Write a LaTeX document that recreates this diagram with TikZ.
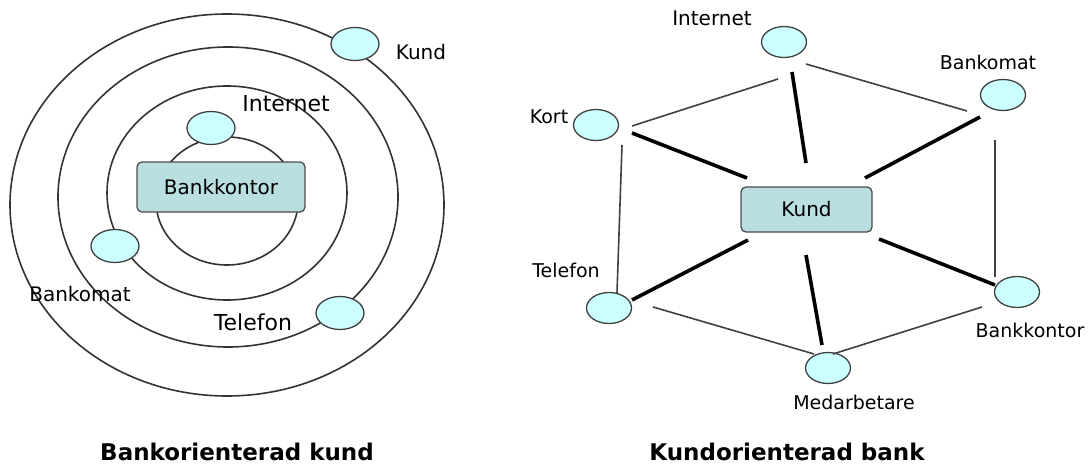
\documentclass[tikz,border=0pt]{standalone}
\usepackage{fontspec}
\setmainfont{DejaVu Sans}
\usetikzlibrary{shapes.geometric}
\definecolor{bubcol}{HTML}{CCFFFF}
\definecolor{boxcol}{HTML}{B9DFE0}
\begin{document}
\begin{tikzpicture}[x=1pt,y=-1pt,
  orbit/.style={draw=black!80, line width=1.6pt},
  bub/.style={ellipse, draw=black!75, line width=1.3pt, fill=bubcol, minimum width=48pt, minimum height=33pt, inner sep=0pt},
  rbub/.style={bub, minimum width=45pt, minimum height=31pt},
  centerbox/.style={rectangle, rounded corners=5pt, draw=black!70, line width=1.3pt, fill=boxcol, font=\fontsize{20}{24}\selectfont, inner sep=0pt},
  lbl/.style={font=\fontsize{20}{24}\selectfont, inner sep=0pt},
  rlbl/.style={font=\fontsize{19}{23}\selectfont, inner sep=0pt},
  conthin/.style={draw=black!75, line width=1.6pt},
  conthick/.style={draw=black, line width=3.6pt},
  titlestyle/.style={font=\bfseries\fontsize{23}{28}\selectfont, inner sep=0pt}]
\useasboundingbox[fill=white] (0,0) rectangle (1091,468);

% ---------- left diagram ----------
\draw[orbit] (227,205) ellipse [x radius=217pt, y radius=191pt];
\draw[orbit] (228,197) ellipse [x radius=170pt, y radius=150pt];
\draw[orbit] (227,193) ellipse [x radius=120pt, y radius=107pt];
\draw[orbit] (227,201) ellipse [x radius=71pt, y radius=64pt];

\node[centerbox, minimum width=168pt, minimum height=50pt] (bk) at (221,187) {Bankkontor};

\node[bub] (lkund) at (355,44) {};
\node[bub] (lint) at (211,128) {};
\node[bub] (lbankomat) at (115,246) {};
\node[bub] (ltel) at (340,313) {};

\node[lbl] (lkundlbl) at (421,52) {Kund};
\node[lbl, font=\fontsize{22}{26}\selectfont] (lintlbl) at (286,104) {Internet};
\node[lbl] (lbankomatlbl) at (80,294) {Bankomat};
\node[lbl, font=\fontsize{22}{26}\selectfont] (ltellbl) at (253,322) {Telefon};

\node[titlestyle] (ltitle) at (237,452) {Bankorienterad kund};

% ---------- right diagram ----------
\node[centerbox, minimum width=131pt, minimum height=45pt] (kund) at (806.5,209.5) {Kund};

\node[rbub] (rint) at (784,42) {};
\node[rbub] (rbankomat) at (1003,95) {};
\node[rbub] (rkort) at (596,125) {};
\node[rbub] (rtel) at (609,308) {};
\node[rbub] (rbk) at (1017,292) {};
\node[rbub] (rmed) at (828,368) {};

\node[rlbl, font=\fontsize{20}{24}\selectfont] (rintlbl) at (712,18) {Internet};
\node[rlbl] (rbankomatlbl) at (988,62) {Bankomat};
\node[rlbl] (rkortlbl) at (549,117) {Kort};
\node[rlbl] (rtellbl) at (566,270) {Telefon};
\node[rlbl] (rbklbl) at (1030,330) {Bankkontor};
\node[rlbl] (rmedlbl) at (854,402) {Medarbetare};

% thin ring
\draw[conthin] ([shift={(36,1)}]rkort.center) -- ([shift={(-6,37)}]rint.center);
\draw[conthin] ([shift={(22,22)}]rint.center) -- ([shift={(-36,16)}]rbankomat.center);
\draw[conthin] ([shift={(26,20)}]rkort.center) -- ([shift={(8,-15)}]rtel.center);
\draw[conthin] ([shift={(-8,45)}]rbankomat.center) -- ([shift={(-22,-15)}]rbk.center);
\draw[conthin] ([shift={(44,-1)}]rtel.center) -- ([shift={(-14,-14)}]rmed.center);
\draw[conthin] ([shift={(5,-14)}]rmed.center) -- ([shift={(-35,15)}]rbk.center);

% thick spokes
\draw[conthick] ([shift={(36,8)}]rkort.center) -- ([shift={(-59.5,-31.5)}]kund.center);
\draw[conthick] ([shift={(8,30)}]rint.center) -- ([shift={(-0.5,-46.5)}]kund.center);
\draw[conthick] ([shift={(-23,22)}]rbankomat.center) -- ([shift={(58.5,-31.5)}]kund.center);
\draw[conthick] ([shift={(23,-8)}]rtel.center) -- ([shift={(-58.5,30.5)}]kund.center);
\draw[conthick] ([shift={(-22,-7)}]rbk.center) -- ([shift={(72.5,29.5)}]kund.center);
\draw[conthick] ([shift={(-6,-23)}]rmed.center) -- ([shift={(-0.5,45.5)}]kund.center);

\node[titlestyle] (rtitle) at (787,452) {Kundorienterad bank};
\end{tikzpicture}
\end{document}
